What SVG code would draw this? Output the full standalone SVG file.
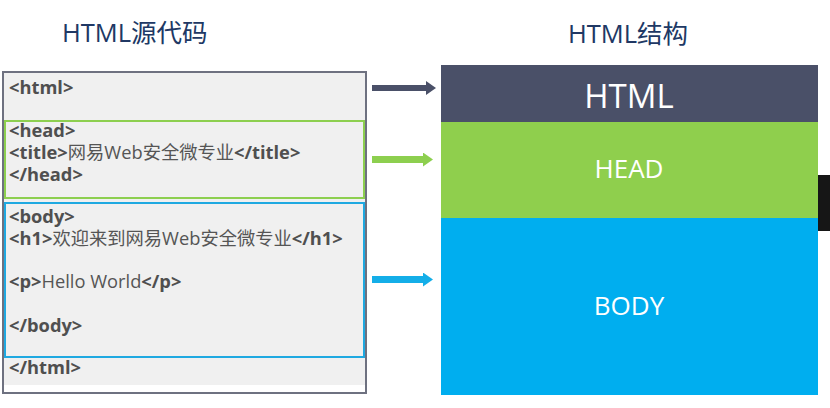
<svg xmlns="http://www.w3.org/2000/svg" width="830" height="408" viewBox="0 0 830 408">
<defs>
<style>
.title{font-family:"Open Sans","Noto Sans CJK SC",sans-serif;font-size:25.5px;fill:#203864}
.code{font-family:"Open Sans","Noto Sans CJK SC",sans-serif;font-size:18.3px;fill:#555555}
.tag{font-weight:bold;fill:#4f4f4f}
.lbl{font-family:"Open Sans","Noto Sans CJK SC",sans-serif;fill:#ffffff;text-anchor:middle}
</style>
<marker id="ahDark" viewBox="0 0 10 14" refX="0" refY="7" markerWidth="10" markerHeight="14" markerUnits="userSpaceOnUse" orient="auto"><path d="M0,0 L10,7 L0,14 Z" fill="#4a5068"/></marker>
<marker id="ahGreen" viewBox="0 0 10 14" refX="0" refY="7" markerWidth="10" markerHeight="14" markerUnits="userSpaceOnUse" orient="auto"><path d="M0,0 L10,7 L0,14 Z" fill="#8dcf4f"/></marker>
<marker id="ahBlue" viewBox="0 0 10 14" refX="0" refY="7" markerWidth="10" markerHeight="14" markerUnits="userSpaceOnUse" orient="auto"><path d="M0,0 L10,7 L0,14 Z" fill="#14aee8"/></marker>
</defs>
<rect width="830" height="408" fill="#ffffff"/>
<text class="title" x="62" y="42">HTML源代码</text>
<text class="title" x="568" y="43">HTML结构</text>

<g id="source-html">
<rect x="3" y="72" width="363" height="321" fill="#f0f0f0" stroke="#6e7180" stroke-width="2"/>
<rect x="4" y="385" width="361" height="7" fill="#ffffff"/>
<text class="code tag" x="9" y="94">&lt;html&gt;</text>
<text class="code tag" x="9" y="374">&lt;/html&gt;</text>
</g>
<g id="source-head">
<rect x="5" y="121" width="359" height="77" fill="#f0f0f0" stroke="#8dcf4f" stroke-width="2"/>
<text class="code tag" x="9" y="137">&lt;head&gt;</text>
<text class="code" x="9" y="159"><tspan class="tag">&lt;title&gt;</tspan>网易Web安全微专业<tspan class="tag">&lt;/title&gt;</tspan></text>
<text class="code tag" x="9" y="181">&lt;/head&gt;</text>
</g>
<g id="source-body">
<rect x="5" y="203" width="359" height="154" fill="#f0f0f0" stroke="#1fa9e1" stroke-width="2"/>
<text class="code tag" x="9" y="223">&lt;body&gt;</text>
<text class="code" x="9" y="245"><tspan class="tag">&lt;h1&gt;</tspan>欢迎来到网易Web安全微专业<tspan class="tag">&lt;/h1&gt;</tspan></text>
<text class="code" x="9" y="288"><tspan class="tag">&lt;p&gt;</tspan>Hello World<tspan class="tag">&lt;/p&gt;</tspan></text>
<text class="code tag" x="9" y="332">&lt;/body&gt;</text>
</g>

<g id="connectors">
<line x1="372" y1="88" x2="426" y2="88" stroke="#4a5068" stroke-width="6" marker-end="url(#ahDark)"/>
<line x1="372" y1="159.5" x2="423" y2="159.5" stroke="#8dcf4f" stroke-width="7" marker-end="url(#ahGreen)"/>
<line x1="372" y1="279.5" x2="423" y2="279.5" stroke="#14aee8" stroke-width="7" marker-end="url(#ahBlue)"/>
</g>

<g id="struct-html">
<rect x="441" y="65" width="377" height="57" fill="#4a5068"/>
<text class="lbl" x="629" y="108" font-size="33">HTML</text>
</g>
<g id="struct-head">
<rect x="441" y="122" width="377" height="96" fill="#8fcf4d"/>
<text class="lbl" x="629" y="178" font-size="26">HEAD</text>
</g>
<g id="struct-body">
<rect x="441" y="218" width="377" height="177" fill="#00aeef"/>
<text class="lbl" x="629" y="315" font-size="26">BODY</text>
</g>
<rect x="818" y="175" width="12" height="56" fill="#161616"/>
</svg>
